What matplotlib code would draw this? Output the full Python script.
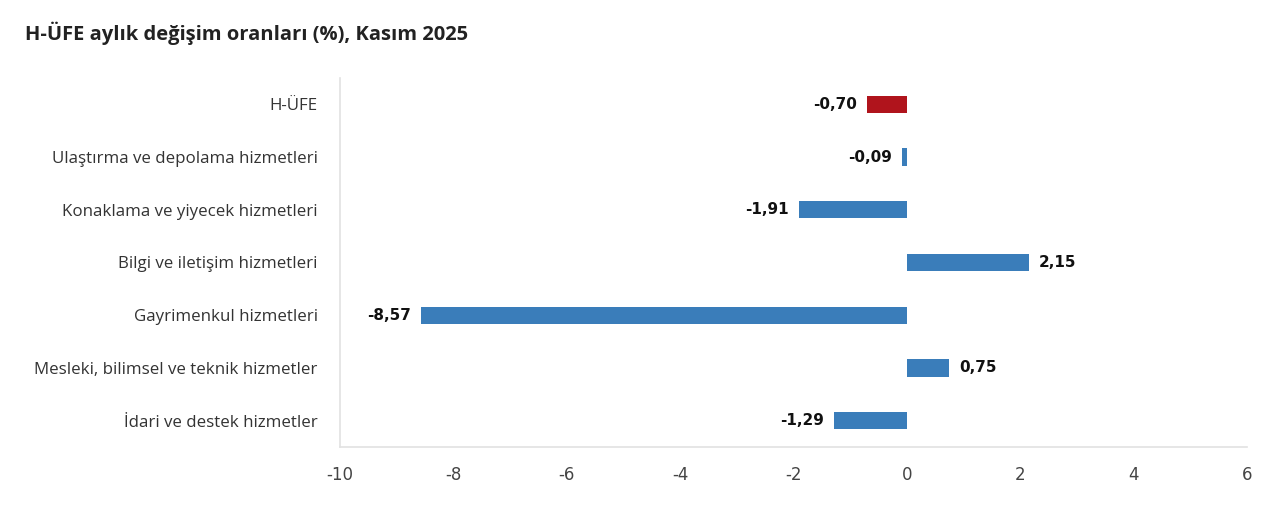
import matplotlib
matplotlib.use("Agg")
import matplotlib.pyplot as plt
from matplotlib import font_manager

categories = ["H-ÜFE", "Ulaştırma ve depolama hizmetleri", "Konaklama ve yiyecek hizmetleri",
              "Bilgi ve iletişim hizmetleri", "Gayrimenkul hizmetleri",
              "Mesleki, bilimsel ve teknik hizmetler", "İdari ve destek hizmetler"]
values = [-0.70, -0.09, -1.91, 2.15, -8.57, 0.75, -1.29]
labels = ["-0,70", "-0,09", "-1,91", "2,15", "-8,57", "0,75", "-1,29"]
xticks = [-10, -8, -6, -4, -2, 0, 2, 4, 6]

names = {f.name for f in font_manager.fontManager.ttflist}
narrow = "Liberation Sans Narrow" if "Liberation Sans Narrow" in names else "DejaVu Sans"

fig = plt.figure(figsize=(12.8, 5.14), dpi=100)
ax = fig.add_axes([0.2656, 0.1304, 0.7086, 0.7178])

colors = ["#B0141C"] + ["#3A7DBA"] * (len(values) - 1)
y = list(range(len(categories)))
ax.barh(y, values, height=0.33, color=colors)
ax.set_ylim(len(categories) - 0.5, -0.5)
ax.set_xlim(-10, 6)
ax.set_xticks(xticks)
ax.set_xticklabels([str(t) for t in xticks], fontname=narrow, fontsize=12, color="#444444")
ax.set_yticks(y)
ax.set_yticklabels(categories, fontname="Open Sans", fontsize=12.2, color="#333333")
ax.tick_params(length=0, axis="y", pad=16)
ax.tick_params(length=0, axis="x", pad=14)

for s in ["top", "right"]:
    ax.spines[s].set_visible(False)
for s in ["left", "bottom"]:
    ax.spines[s].set_color("#E2E2E2")
    ax.spines[s].set_linewidth(1.2)

for yi, v, lab in zip(y, values, labels):
    off = -7 if v < 0 else 7
    ha = "right" if v < 0 else "left"
    ax.annotate(lab, (v, yi), xytext=(off, 0), textcoords="offset points",
                ha=ha, va="center", fontname=narrow, fontsize=11, fontweight="bold", color="#111111")

fig.text(0.0195, 0.935, "H-ÜFE aylık değişim oranları (%), Kasım 2025", fontname="Open Sans",
         fontsize=14.5, fontweight="bold", color="#222222", va="center")

fig.savefig("out.png", dpi=100)
